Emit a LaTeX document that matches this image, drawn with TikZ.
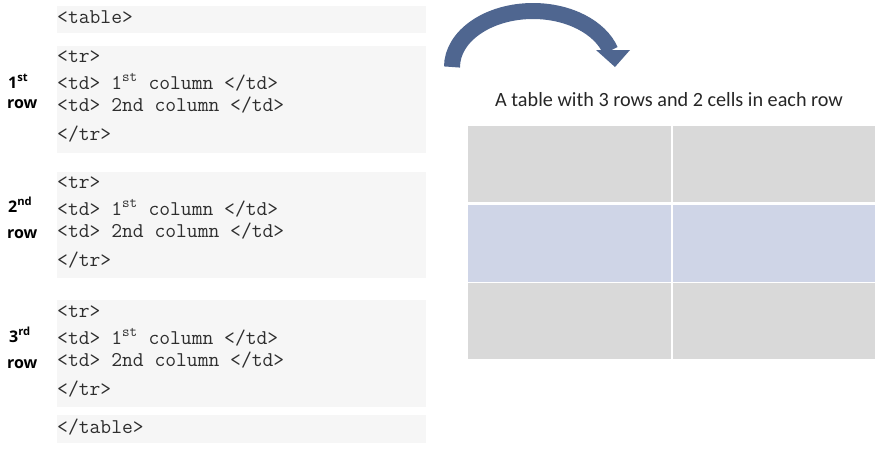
\documentclass[tikz,border=0pt]{standalone}
\usepackage{fontspec}
\newfontfamily\labfont{Open Sans}
\newfontfamily\titfont{Carlito}
\definecolor{codebg}{HTML}{F6F6F6}
\definecolor{codefg}{HTML}{2E2E2E}
\definecolor{arrowc}{HTML}{4F6690}
\definecolor{cellgray}{HTML}{D9D9D9}
\definecolor{cellblue}{HTML}{CFD5E7}
\begin{document}
\begin{tikzpicture}[x=1pt,y=-1pt,
  codebox/.style={fill=codebg,draw=none},
  code/.style={anchor=base west,inner sep=0pt,text=codefg,font=\ttfamily\fontsize{21}{23}\selectfont},
  lab/.style={anchor=base west,inner sep=0pt,font=\labfont\bfseries\fontsize{16}{18}\selectfont},
  cell/.style={draw=none}]
\useasboundingbox (0,0) rectangle (887,451);
% code boxes
\fill[codebox] (57,6) rectangle (426,33);
\fill[codebox] (57,46) rectangle (426,153);
\fill[codebox] (57,172) rectangle (426,278);
\fill[codebox] (57,300) rectangle (426,407);
\fill[codebox] (57,415) rectangle (426,443);
\newcommand{\sst}{\textsuperscript{st}}
\node[code] (t0) at (57,23) {<table>};
\foreach \n/\y in {1/0,2/126,3/255}{
  \node[code] (tr\n) at (57,62+\y) {<tr>};
  \node[code] (c\n a) at (57,89+\y) {<td> 1\sst{} column </td>};
  \node[code] (c\n b) at (57,111+\y) {<td> 2nd column </td>};
  \node[code] (etr\n) at (57,140+\y) {</tr>};
}
\node[code] (t1) at (57,433) {</table>};
% row labels
\node[lab] (l1) at (8,88) {1\textsuperscript{st}};
\node[lab] (r1) at (7,108) {row};
\node[lab] (l2) at (8,212) {2\textsuperscript{nd}};
\node[lab] (r2) at (7,238) {row};
\node[lab] (l3) at (9,342) {3\textsuperscript{rd}};
\node[lab] (r3) at (7,368) {row};
% arrow
\draw[arrowc,line width=16pt] (452,67) arc[start angle=180,end angle=343,x radius=81,y radius=56];
\fill[arrowc] (596,50) -- (630,50) -- (615,67) -- cycle;
% title
\node[anchor=base west,inner sep=0pt,font=\titfont\fontsize{20.2}{22}\selectfont,text=black!85] (title) at (495,106) {A table with 3 rows and 2 cells in each row};
% table cells
\fill[cellgray] (468,126) rectangle (671,202);
\fill[cellgray] (673,126) rectangle (875,202);
\fill[cellblue] (468,205) rectangle (671,282);
\fill[cellblue] (673,205) rectangle (875,282);
\fill[cellgray] (468,283) rectangle (671,359);
\fill[cellgray] (673,283) rectangle (875,359);
\end{tikzpicture}
\end{document}
